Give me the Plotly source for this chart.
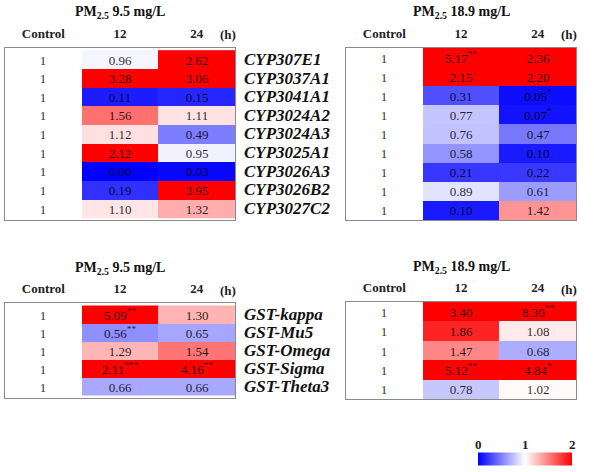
import plotly.graph_objects as go

W, H = 594, 472

columns = ["Control", "12", "24"]

cyp_genes = ["CYP307E1", "CYP3037A1", "CYP3041A1", "CYP3024A2", "CYP3024A3",
             "CYP3025A1", "CYP3026A3", "CYP3026B2", "CYP3027C2"]
gst_genes = ["GST-kappa", "GST-Mu5", "GST-Omega", "GST-Sigma", "GST-Theta3"]

# fold change values (Control = 1)
cyp_low_12 = [0.96, 3.28, 0.11, 1.56, 1.12, 2.12, 0.00, 0.19, 1.10]
cyp_low_24 = [2.62, 3.06, 0.15, 1.11, 0.49, 0.95, 0.03, 3.95, 1.32]
cyp_low_12_sig = ["", "", "", "", "", "", "", "", ""]
cyp_low_24_sig = ["", "", "", "", "", "", "", "", ""]

cyp_high_12 = [5.17, 2.15, 0.31, 0.77, 0.76, 0.58, 0.21, 0.89, 0.10]
cyp_high_24 = [2.36, 2.20, 0.05, 0.07, 0.47, 0.10, 0.22, 0.61, 1.42]
cyp_high_12_sig = ["**", "", "", "", "", "", "", "", ""]
cyp_high_24_sig = ["", "", "*", "*", "", "", "", "", ""]

gst_low_12 = [5.09, 0.56, 1.29, 2.11, 0.66]
gst_low_24 = [1.30, 0.65, 1.54, 4.16, 0.66]
gst_low_12_sig = ["**", "**", "", "***", ""]
gst_low_24_sig = ["", "", "", "**", ""]

gst_high_12 = [3.40, 1.86, 1.47, 5.12, 0.78]
gst_high_24 = [8.30, 1.08, 0.68, 4.84, 1.02]
gst_high_12_sig = ["", "", "", "**", ""]
gst_high_24_sig = ["**", "", "", "*", ""]

titles = ["PM<sub>2.5</sub> 9.5 mg/L", "PM<sub>2.5</sub> 18.9 mg/L"]
colorbar_ticks = [0, 1, 2]

FONT = "Liberation Serif"

panels = [
    # genes, v12, v24, s12, s24, box px (x0, x1, y0, y1), title idx, show gene names
    (cyp_genes, cyp_low_12, cyp_low_24, cyp_low_12_sig, cyp_low_24_sig, (5, 235, 48, 220), 0, True),
    (cyp_genes, cyp_high_12, cyp_high_24, cyp_high_12_sig, cyp_high_24_sig, (346, 576, 48, 220), 1, False),
    (gst_genes, gst_low_12, gst_low_24, gst_low_12_sig, gst_low_24_sig, (5, 235, 303, 398), 0, True),
    (gst_genes, gst_high_12, gst_high_24, gst_high_12_sig, gst_high_24_sig, (346, 576, 302, 399), 1, False),
]

fig = go.Figure()
annotations = []
layout_axes = {}

def fmt(v, s):
    t = f"{v:.2f}"
    if s:
        t += f"<sup>{s}</sup>"
    return t

for i, (genes, v12, v24, s12, s24, box, ti, show_genes) in enumerate(panels):
    n = i + 1
    xa = "x" if n == 1 else f"x{n}"
    ya = "y" if n == 1 else f"y{n}"
    z = [[1, a, b] for a, b in zip(v12, v24)]
    text = [["1", fmt(a, sa), fmt(b, sb)] for a, b, sa, sb in zip(v12, v24, s12, s24)]
    fig.add_trace(go.Heatmap(
        z=z, x=columns, y=genes, text=text, texttemplate="%{text}",
        textfont=dict(family=FONT, size=13, color="rgba(0,0,0,0.85)"),
        coloraxis="coloraxis", xaxis=xa, yaxis=ya, hoverinfo="skip",
    ))
    x0, x1, y0, y1 = box
    xkey = "xaxis" if n == 1 else f"xaxis{n}"
    ykey = "yaxis" if n == 1 else f"yaxis{n}"
    layout_axes[xkey] = dict(
        domain=[x0 / W, x1 / W], anchor=ya, side="top", type="category",
        showgrid=False, zeroline=False, showline=True, mirror=True,
        linecolor="#8a8a8a", linewidth=1, ticks="", ticklabelstandoff=4,
        tickfont=dict(family=FONT, size=13, color="#222", weight="bold"),
        fixedrange=True, automargin=False,
    )
    layout_axes[ykey] = dict(
        domain=[1 - y1 / H, 1 - y0 / H], anchor=xa, type="category",
        autorange="reversed", showgrid=False, zeroline=False, showline=True,
        mirror=True, linecolor="#8a8a8a", linewidth=1, ticks="",
        showticklabels=False, fixedrange=True, automargin=False,
    )
    if show_genes:
        for g in genes:
            annotations.append(dict(
                text=f"<b><i>{g}</i></b>", xref="paper", yref=ya,
                x=(x1 + 7) / W, y=g, xanchor="left", yanchor="middle",
                showarrow=False, font=dict(family=FONT, size=17, color="#111"),
            ))
    # "(h)" unit label
    annotations.append(dict(
        text="<b>(h)</b>", xref="paper", yref=ya + " domain",
        x=(x1 - 7) / W, y=1, yshift=13, xanchor="center", yanchor="middle",
        showarrow=False, font=dict(family=FONT, size=13, color="#222"),
    ))
    # panel title
    annotations.append(dict(
        text=f"<b>{titles[ti]}</b>", xref="paper", yref=ya + " domain",
        x=(x0 + x1) / 2 / W, y=1, yshift=35,
        xanchor="center", yanchor="middle", showarrow=False,
        font=dict(family=FONT, size=14, color="#111"),
    ))

# colorbar tick labels drawn above the bar
cb_x0, cb_x1, cb_y = 478, 572, 458.5
for t in colorbar_ticks:
    annotations.append(dict(
        text=f"<b>{t}</b>", xref="paper", yref="paper",
        x=(cb_x0 + (cb_x1 - cb_x0) * t / 2) / W, y=1 - cb_y / H, yshift=14,
        xanchor="center", yanchor="middle", showarrow=False,
        font=dict(family=FONT, size=13, color="#222"),
    ))

fig.update_layout(
    template="none",
    width=W, height=H, margin=dict(l=0, r=0, t=0, b=0, autoexpand=False),
    paper_bgcolor="white", plot_bgcolor="white",
    coloraxis=dict(
        cmin=0, cmax=2,
        colorscale=[[0, "rgb(0,0,255)"], [0.5, "rgb(255,255,255)"], [1, "rgb(255,0,0)"]],
        colorbar=dict(
            orientation="h", lenmode="pixels", len=cb_x1 - cb_x0, thickness=13,
            x=(cb_x0 + cb_x1) / 2 / W, xanchor="center", y=1 - cb_y / H, yanchor="middle",
            xpad=0, ypad=0, outlinewidth=0, showticklabels=False, ticks="",
        ),
    ),
    annotations=annotations,
    **layout_axes,
)

fig.write_html(
    "out.html",
    config={"displayModeBar": False},
    post_script="document.body.style.margin='0';document.body.style.padding='0';",
)
